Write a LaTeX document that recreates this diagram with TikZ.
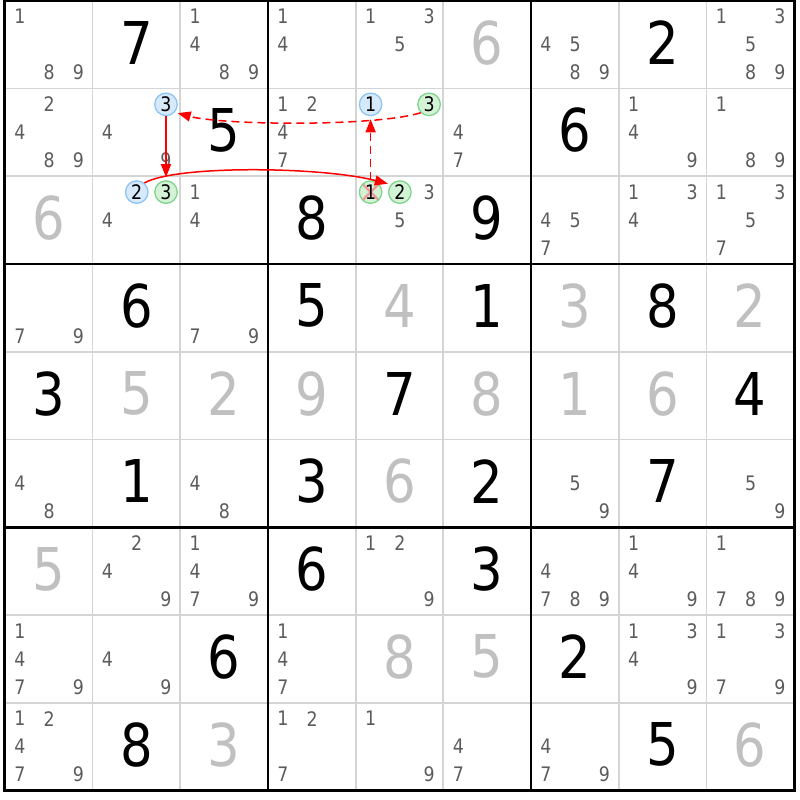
\documentclass[tikz,border=0pt]{standalone}
\usepackage{fontspec}
\setmainfont{DejaVu Sans}[FakeStretch=0.87]
\usetikzlibrary{arrows.meta}
\definecolor{candgray}{HTML}{5C5C5C}
\definecolor{solvgray}{HTML}{C0C0C0}
\definecolor{thingrid}{HTML}{D4D4D4}
\definecolor{bluefill}{HTML}{D6EAFC}
\definecolor{bluedraw}{HTML}{8DC4F4}
\definecolor{greenfill}{HTML}{D4F2D6}
\definecolor{greendraw}{HTML}{7ED48A}
\definecolor{linkred}{HTML}{FF0000}
\definecolor{crosspink}{HTML}{F29A9A}
\def\sdkcw{87.7}\def\sdkch{87.75}\def\sdkgx{4.8}\def\sdkgy{0.8}
\newcommand\sdkcandpos[3]{%
  \pgfmathsetmacro\sdkx{\sdkgx+(#2-1)*\sdkcw+15.0+mod(#3-1,3)*29.25}%
  \pgfmathsetmacro\sdky{\sdkgy+(#1-1)*\sdkch+15.8+floor((#3-1)/3)*28.0}}
\newcommand\sdkcand[3]{\sdkcandpos{#1}{#2}{#3}\node[cand] (k#1#2#3) at (\sdkx,\sdky) {#3};}
\newcommand\sdkcands[3]{\foreach \sdkd in {#3}{\sdkcand{#1}{#2}{\sdkd}}}
\newcommand\sdkmark[4]{\sdkcandpos{#1}{#2}{#3}\node[#4] (k#1#2#3) at (\sdkx,\sdky) {#3};}
\newcommand\sdkbig[4]{\pgfmathsetmacro\sdkx{\sdkgx+(#2-0.5)*\sdkcw}%
  \pgfmathsetmacro\sdky{\sdkgy+(#1-1)*\sdkch+41.8}%
  \node[#4] (n#1#2) at (\sdkx,\sdky) {#3};}
\tikzset{
  cand/.style={font=\fontsize{20}{20}\selectfont, text=candgray, inner sep=0pt},
  given/.style={font=\fontsize{59}{59}\selectfont, text=black, inner sep=0pt},
  solved/.style={given, text=solvgray},
  markc/.style={circle, minimum size=22.5pt, inner sep=0pt, line width=1.3pt,
    font=\fontsize{20}{20}\selectfont, text=black},
  bluemark/.style={markc, fill=bluefill, draw=bluedraw},
  greenmark/.style={markc, fill=greenfill, draw=greendraw},
  elim/.style={greenmark, path picture={\draw[crosspink, line width=2.2pt]
    (path picture bounding box.north west) -- (path picture bounding box.south east)
    (path picture bounding box.north east) -- (path picture bounding box.south west);}},
  link/.style={color=linkred, draw=linkred, line width=1.5pt,
    -{Triangle[length=13pt,width=10pt]}, shorten >=3pt},
  weaklink/.style={link, dash pattern=on 8pt off 5pt},
  thinline/.style={draw=thingrid, line width=1.8pt},
  boxline/.style={draw=black, line width=2.4pt},
  outerline/.style={draw=black, line width=3pt}
}
\begin{document}
\begin{tikzpicture}[x=1pt,y=-1pt]
\useasboundingbox (0,0) rectangle (800,800);
\fill[white] (0,0) rectangle (800,800);
% grid
\foreach \i in {1,2,4,5,7,8}{
  \draw[thinline] (\sdkgx+\i*\sdkcw,\sdkgy) -- (\sdkgx+\i*\sdkcw,\sdkgy+9*\sdkch);
  \draw[thinline] (\sdkgx,\sdkgy+\i*\sdkch) -- (\sdkgx+9*\sdkcw,\sdkgy+\i*\sdkch);
}
\foreach \i in {3,6}{
  \draw[boxline] (\sdkgx+\i*\sdkcw,\sdkgy) -- (\sdkgx+\i*\sdkcw,\sdkgy+9*\sdkch);
  \draw[boxline] (\sdkgx,\sdkgy+\i*\sdkch) -- (\sdkgx+9*\sdkcw,\sdkgy+\i*\sdkch);
}
\draw[outerline] (\sdkgx,\sdkgy) rectangle (\sdkgx+9*\sdkcw,\sdkgy+9*\sdkch);
% givens
\sdkbig{1}{2}{7}{given} \sdkbig{1}{8}{2}{given} \sdkbig{2}{3}{5}{given}
\sdkbig{2}{7}{6}{given} \sdkbig{3}{4}{8}{given} \sdkbig{3}{6}{9}{given}
\sdkbig{4}{2}{6}{given} \sdkbig{4}{4}{5}{given} \sdkbig{4}{6}{1}{given}
\sdkbig{4}{8}{8}{given} \sdkbig{5}{1}{3}{given} \sdkbig{5}{5}{7}{given}
\sdkbig{5}{9}{4}{given} \sdkbig{6}{2}{1}{given} \sdkbig{6}{4}{3}{given}
\sdkbig{6}{6}{2}{given} \sdkbig{6}{8}{7}{given} \sdkbig{7}{4}{6}{given}
\sdkbig{7}{6}{3}{given} \sdkbig{8}{3}{6}{given} \sdkbig{8}{7}{2}{given}
\sdkbig{9}{2}{8}{given} \sdkbig{9}{8}{5}{given}
% solved
\sdkbig{1}{6}{6}{solved} \sdkbig{3}{1}{6}{solved} \sdkbig{4}{5}{4}{solved}
\sdkbig{4}{7}{3}{solved} \sdkbig{4}{9}{2}{solved} \sdkbig{5}{2}{5}{solved}
\sdkbig{5}{3}{2}{solved} \sdkbig{5}{4}{9}{solved} \sdkbig{5}{6}{8}{solved}
\sdkbig{5}{7}{1}{solved} \sdkbig{5}{8}{6}{solved} \sdkbig{6}{5}{6}{solved}
\sdkbig{7}{1}{5}{solved} \sdkbig{8}{5}{8}{solved} \sdkbig{8}{6}{5}{solved}
\sdkbig{9}{3}{3}{solved} \sdkbig{9}{9}{6}{solved}
% candidates
\sdkcands{1}{1}{1,8,9} \sdkcands{1}{3}{1,4,8,9} \sdkcands{1}{4}{1,4}
\sdkcands{1}{5}{1,3,5} \sdkcands{1}{7}{4,5,8,9} \sdkcands{1}{9}{1,3,5,8,9}
\sdkcands{2}{1}{2,4,8,9} \sdkcands{2}{2}{4,9} \sdkcands{2}{4}{1,2,4,7}
\sdkcands{2}{6}{4,7} \sdkcands{2}{8}{1,4,9} \sdkcands{2}{9}{1,8,9}
\sdkcands{3}{2}{4} \sdkcands{3}{3}{1,4} \sdkcands{3}{5}{3,5}
\sdkcands{3}{7}{4,5,7} \sdkcands{3}{8}{1,3,4} \sdkcands{3}{9}{1,3,5,7}
\sdkcands{4}{1}{7,9} \sdkcands{4}{3}{7,9}
\sdkcands{6}{1}{4,8} \sdkcands{6}{3}{4,8} \sdkcands{6}{7}{5,9} \sdkcands{6}{9}{5,9}
\sdkcands{7}{2}{2,4,9} \sdkcands{7}{3}{1,4,7,9} \sdkcands{7}{5}{1,2,9}
\sdkcands{7}{7}{4,7,8,9} \sdkcands{7}{8}{1,4,9} \sdkcands{7}{9}{1,7,8,9}
\sdkcands{8}{1}{1,4,7,9} \sdkcands{8}{2}{4,9} \sdkcands{8}{4}{1,4,7}
\sdkcands{8}{8}{1,3,4,9} \sdkcands{8}{9}{1,3,7,9}
\sdkcands{9}{1}{1,2,4,7,9} \sdkcands{9}{4}{1,2,7} \sdkcands{9}{5}{1,9}
\sdkcands{9}{6}{4,7} \sdkcands{9}{7}{4,7,9}
% marked candidates
\sdkmark{2}{2}{3}{bluemark}
\sdkmark{2}{5}{1}{bluemark}
\sdkmark{2}{5}{3}{greenmark}
\sdkmark{3}{2}{2}{bluemark}
\sdkmark{3}{2}{3}{greenmark}
\sdkmark{3}{5}{1}{elim}
\sdkmark{3}{5}{2}{greenmark}
% links
\draw[weaklink] (k253.225) .. controls +(-45,14) and +(48,13) .. (k223.-42);
\draw[link] (k223) -- (k323);
\draw[link] (k322.50) .. controls +(31,-18) and +(-70,-18) .. (k352.140);
\draw[weaklink] (k351) -- (k251);
\end{tikzpicture}
\end{document}
